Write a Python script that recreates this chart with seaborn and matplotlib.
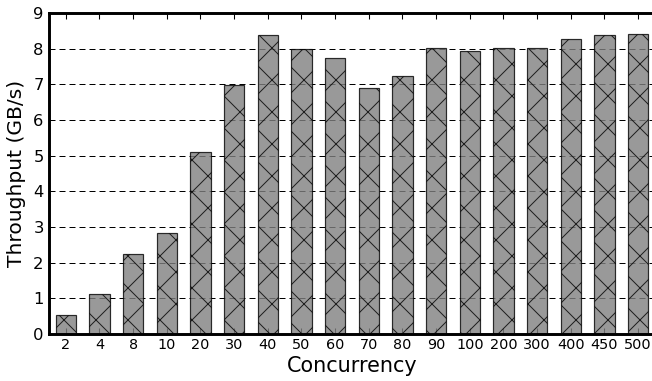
import matplotlib
matplotlib.use("Agg")
import matplotlib.pyplot as plt
import seaborn as sns
import pandas as pd

concurrency = ["2", "4", "8", "10", "20", "30", "40", "50", "60", "70", "80",
               "90", "100", "200", "300", "400", "450", "500"]
throughput = [0.54, 1.12, 2.24, 2.82, 5.11, 6.99, 8.37, 7.99, 7.73, 6.91, 7.22,
              8.01, 7.93, 8.01, 8.01, 8.26, 8.39, 8.40]

df = pd.DataFrame({"Concurrency": concurrency, "Throughput": throughput})

sns.set_style("white")
plt.rcParams["font.family"] = ["DejaVu Sans"]
plt.rcParams["hatch.linewidth"] = 0.75
plt.rcParams["hatch.color"] = "#111111"

DPI = 96
fig = plt.figure(figsize=(652 / DPI, 381 / DPI), dpi=DPI)
ax = fig.add_axes([49 / 652, 1 - 334 / 381, 606 / 652, (334 - 13) / 381])

ax.yaxis.grid(True, color="black", linestyle=(0, (6, 4)), linewidth=0.75)
ax.set_axisbelow(True)

sns.barplot(data=df, x="Concurrency", y="Throughput", order=concurrency,
            color="#808080", saturation=1, width=0.6, alpha=0.8,
            edgecolor="black", linewidth=0.9, ax=ax)
for bar in ax.patches:
    bar.set_hatch("x")

ax.set_xlim(-0.5, 17.5)
ax.set_ylim(0, 9)
ax.set_yticks(range(0, 10))

for side in ["left", "right", "top", "bottom"]:
    ax.spines[side].set_visible(True)
    ax.spines[side].set_linewidth(2.2)
    ax.spines[side].set_color("black")

ax.tick_params(axis="x", direction="in", length=4.5, width=0.8, top=True,
               bottom=True, labelsize=10.8, pad=3, colors="black")
ax.tick_params(axis="y", length=0, labelsize=12.3, pad=4, colors="black")

ax.set_xlabel("Concurrency", fontsize=15.6, labelpad=3, color="black")
ax.set_ylabel("Throughput (GB/s)", fontsize=15.2, labelpad=5, color="black")

fig.savefig("out.png", dpi=DPI)
